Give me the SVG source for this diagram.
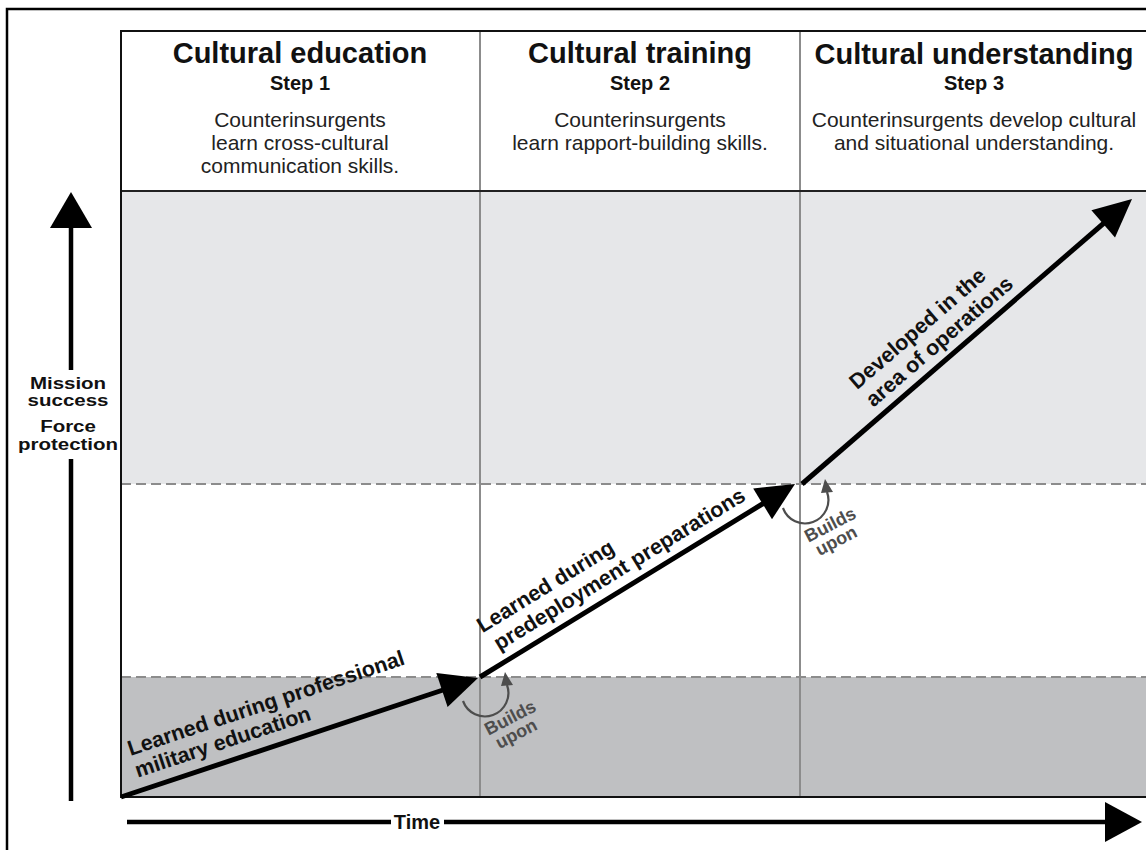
<svg xmlns="http://www.w3.org/2000/svg" width="1146" height="850" viewBox="0 0 1146 850">
  <style>
    .title { font-family: "Liberation Sans", Arial, sans-serif; font-weight: bold; font-size: 29px; fill: #111; text-anchor: middle; }
    .step { font-family: "Liberation Sans", Arial, sans-serif; font-weight: bold; font-size: 20px; fill: #111; text-anchor: middle; }
    .desc { font-family: "Liberation Sans", Arial, sans-serif; font-size: 21px; fill: #222; text-anchor: middle; }
    .lbl { font-family: "Liberation Sans", Arial, sans-serif; font-weight: bold; font-size: 21.5px; fill: #111; }
    .axis { font-family: "Liberation Sans", Arial, sans-serif; font-weight: bold; font-size: 16px; fill: #111; text-anchor: middle; }
    .bu { font-family: "Liberation Sans", Arial, sans-serif; font-weight: bold; font-size: 18px; fill: #4d4d4d; text-anchor: middle; }
    .divider { stroke: #8c8c8c; stroke-width: 2; }
    .dash { stroke: #8c8c8c; stroke-width: 2; stroke-dasharray: 10 5; }
    .main { stroke: #000; stroke-width: 5; fill: none; }
    .head { fill: #000; }
  </style>
  <defs>
    <!-- curved "builds upon" indicator, drawn around a junction at the origin -->
    <g id="buildsUpon">
      <path d="M -17,24 A 23 23 0 0 0 27,8" fill="none" stroke="#4d4d4d" stroke-width="2.2"/>
      <polygon points="25,-5 33,8 21,9" fill="#4d4d4d"/>
      <text class="bu" transform="translate(33,46) rotate(-27.5)"><tspan x="0" y="0">Builds</tspan><tspan x="-2" y="17">upon</tspan></text>
    </g>
  </defs>

  <rect width="1146" height="850" fill="#fff"/>

  <!-- outer frame -->
  <rect x="7" y="9" width="1160" height="860" fill="none" stroke="#000" stroke-width="2.5"/>

  <!-- background bands -->
  <g id="bands">
    <rect x="121" y="191" width="1040" height="293" fill="#e6e7e9"/>
    <rect x="121" y="484" width="1040" height="193" fill="#fff"/>
    <rect x="121" y="677" width="1040" height="120" fill="#bfc0c2"/>
  </g>

  <!-- grid lines -->
  <g id="grid">
    <line class="dash" x1="121" y1="484" x2="1146" y2="484"/>
    <line class="dash" x1="121" y1="677" x2="1146" y2="677"/>
    <line class="divider" x1="480" y1="31" x2="480" y2="797"/>
    <line class="divider" x1="800" y1="31" x2="800" y2="797"/>
    <line x1="121" y1="191" x2="1146" y2="191" stroke="#222" stroke-width="2"/>
    <rect x="121" y="31" width="1040" height="766" fill="none" stroke="#111" stroke-width="2"/>
  </g>

  <!-- column headers -->
  <g id="step1">
    <text class="title" x="300" y="63">Cultural education</text>
    <text class="step" x="300" y="90">Step 1</text>
    <text class="desc" x="300" y="127">Counterinsurgents</text>
    <text class="desc" x="300" y="150">learn cross-cultural</text>
    <text class="desc" x="300" y="173">communication skills.</text>
  </g>
  <g id="step2">
    <text class="title" x="640" y="63">Cultural training</text>
    <text class="step" x="640" y="90">Step 2</text>
    <text class="desc" x="640" y="127">Counterinsurgents</text>
    <text class="desc" x="640" y="150">learn rapport-building skills.</text>
  </g>
  <g id="step3">
    <text class="title" x="974" y="64">Cultural understanding</text>
    <text class="step" x="974" y="90">Step 3</text>
    <text class="desc" x="974" y="127">Counterinsurgents develop cultural</text>
    <text class="desc" x="974" y="150">and situational understanding.</text>
  </g>

  <!-- axes -->
  <g id="y-axis">
    <line x1="71" y1="226" x2="71" y2="370" stroke="#000" stroke-width="4.5"/>
    <line x1="71" y1="459" x2="71" y2="801" stroke="#000" stroke-width="4.5"/>
    <polygon points="71,192 92,228 50,228" fill="#000"/>
    <g transform="translate(68,0) scale(1.28,1)">
      <text class="axis"><tspan x="0" y="389">Mission</tspan><tspan x="0" y="406.5">success</tspan><tspan x="0" y="432.5">Force</tspan><tspan x="0" y="450">protection</tspan></text>
    </g>
  </g>
  <g id="x-axis">
    <line x1="127" y1="822" x2="391" y2="822" stroke="#000" stroke-width="4.5"/>
    <line x1="444" y1="822" x2="1107" y2="822" stroke="#000" stroke-width="4.5"/>
    <polygon points="1105,802 1142,822 1105,842" fill="#000"/>
    <text class="step" x="417" y="829">Time</text>
  </g>

  <!-- progression arrows -->
  <g id="connectors">
    <line class="main" x1="121" y1="797" x2="443" y2="690"/>
    <polygon class="head" points="478,678 447.6,707.1 436.3,672.9"/>
    <line class="main" x1="480" y1="677" x2="764" y2="503"/>
    <polygon class="head" points="795,484 772,519.2 753.2,488.5"/>
    <line class="main" x1="802" y1="484" x2="1104" y2="223"/>
    <polygon class="head" points="1132,199 1115,237.5 1091.4,210.2"/>
    <use href="#buildsUpon" x="480" y="677"/>
    <use href="#buildsUpon" x="800" y="484"/>
  </g>

  <!-- arrow labels -->
  <g id="label1" transform="translate(121,797) rotate(-18.43)">
    <text class="lbl" x="22" y="-36">Learned during professional</text>
    <text class="lbl" x="22" y="-13">military education</text>
  </g>
  <g id="label2" transform="translate(480,677) rotate(-31.5)">
    <text class="lbl" x="25" y="-36">Learned during</text>
    <text class="lbl" x="30" y="-12">predeployment preparations</text>
  </g>
  <g id="label3" transform="translate(802,484) rotate(-40.8)">
    <text class="lbl" x="103" y="-35">Developed in the</text>
    <text class="lbl" x="104" y="-11">area of operations</text>
  </g>
</svg>
